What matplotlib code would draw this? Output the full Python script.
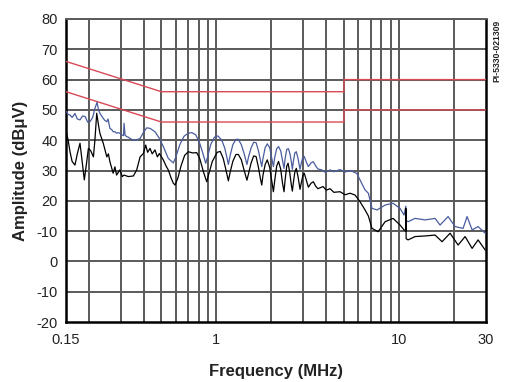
import matplotlib
matplotlib.use("Agg")
import matplotlib.pyplot as plt
from matplotlib.ticker import FixedLocator, NullFormatter, NullLocator

plt.rcParams['font.family'] = ['Liberation Sans', 'DejaVu Sans']

# Limit lines (QP and AV)
qp_f = [0.15, 0.5, 5.0, 5.0, 30.0]
qp_v = [66, 56, 56, 60, 60]
av_f = [0.15, 0.5, 5.0, 5.0, 30.0]
av_v = [56, 46, 46, 50, 50]

# Blue trace (peak)
blue_f = [0.151, 0.154, 0.158, 0.162, 0.168, 0.173, 0.179, 0.185, 0.191, 0.197,
          0.203, 0.210, 0.216, 0.222, 0.226, 0.230, 0.235, 0.240, 0.245, 0.251,
          0.255, 0.261, 0.267, 0.272, 0.278, 0.284, 0.290, 0.296, 0.303, 0.310,
          0.312, 0.316, 0.322, 0.329, 0.336, 0.351, 0.366, 0.382, 0.398, 0.415,
          0.433, 0.461, 0.487, 0.512, 0.545, 0.581,
          0.600, 0.630, 0.665, 0.700, 0.733, 0.770, 0.805, 0.840, 0.874,
          0.895, 0.930, 0.975, 1.02, 1.07, 1.11, 1.14, 1.163,
          1.19, 1.23, 1.28, 1.319, 1.37, 1.42, 1.47,
          1.50, 1.55, 1.60, 1.65, 1.70, 1.74, 1.772,
          1.80, 1.85, 1.90, 1.96, 2.01, 2.052,
          2.09, 2.14, 2.19, 2.25, 2.30, 2.347,
          2.38, 2.43, 2.48, 2.53, 2.58, 2.607,
          2.64, 2.69, 2.74, 2.80, 2.85, 2.872,
          2.92, 2.98, 3.03, 3.10, 3.19, 3.30, 3.398, 3.50,
          3.6, 3.777, 3.95, 4.195, 4.4,
          4.758, 5.07, 5.40, 5.75, 5.88, 6.12, 6.52, 6.80, 7.12, 7.59,
          8.40, 9.29, 10.14, 10.67, 10.90, 10.95, 11.22, 12.26, 13.91, 15.78,
          16.80, 18.59, 20.31, 22.46, 23.62, 25.17, 27.14, 29.66]
blue_v = [49.4, 48.5, 48.3, 47.5, 48.8, 47.0, 46.7, 48.0, 47.8, 46.0,
          46.1, 47.5, 50.5, 52.5, 50.0, 48.9, 48.0, 47.2, 46.5, 46.1,
          47.0, 43.9, 43.5, 42.8, 42.8, 42.3, 42.5, 42.3, 41.8, 41.5,
          45.6, 41.7, 41.2, 41.0, 40.6, 40.0, 40.1, 40.6, 42.5, 44.1,
          43.9, 42.8, 40.6, 37.9, 34.0, 32.5,
          34.5, 38.5, 41.3, 42.3, 42.5, 41.8, 39.5, 36.0, 32.4,
          34.5, 38.5, 41.0, 41.4, 40.0, 37.5, 34.5, 32.0,
          35.0, 38.5, 40.3, 40.3, 38.5, 35.5, 32.0,
          34.5, 37.5, 39.3, 39.2, 36.5, 33.5, 31.3,
          34.0, 37.5, 38.8, 37.5, 34.0, 31.3,
          34.5, 37.2, 37.9, 36.5, 33.5, 30.7,
          34.0, 37.0, 37.2, 35.5, 32.5, 30.4,
          33.0, 35.8, 36.2, 34.0, 31.5, 30.4,
          32.5, 34.5, 34.6, 33.0, 31.3, 32.5, 32.9, 31.5,
          30.5, 30.2, 29.4, 30.2, 29.6,
          30.3, 29.5, 30.0, 29.3, 29.0, 26.9, 23.6, 22.5, 17.5, 17.0,
          18.6, 19.2, 17.5, 15.3, 18.2, 13.5, 13.1, 14.2, 13.7, 14.2,
          12.0, 14.8, 11.5, 10.9, 14.8, 10.4, 11.5, 9.3]

# Black trace (average)
black_f = [0.151, 0.154, 0.158, 0.162, 0.168, 0.173, 0.179, 0.184, 0.189, 0.194,
           0.199, 0.205, 0.212, 0.216, 0.221, 0.226, 0.230, 0.240, 0.251, 0.256,
           0.261, 0.272, 0.278, 0.284, 0.296, 0.305, 0.312, 0.329, 0.351, 0.366,
           0.382, 0.398, 0.410, 0.420, 0.433, 0.445, 0.461, 0.475, 0.487, 0.512,
           0.530, 0.545, 0.565, 0.581, 0.594,
           0.615, 0.64, 0.67, 0.702, 0.74, 0.78, 0.81, 0.85, 0.885,
           0.91, 0.95, 1.01, 1.05, 1.09, 1.13, 1.163,
           1.19, 1.23, 1.28, 1.319, 1.37, 1.42, 1.47,
           1.50, 1.55, 1.60, 1.65, 1.70, 1.74, 1.772,
           1.80, 1.85, 1.90, 1.96, 2.01, 2.052,
           2.09, 2.14, 2.19, 2.25, 2.30, 2.347,
           2.38, 2.43, 2.47, 2.52, 2.57, 2.607,
           2.64, 2.69, 2.74, 2.80, 2.85, 2.872,
           2.92, 2.98, 3.03, 3.10, 3.19, 3.30, 3.398, 3.5,
           3.6, 3.84, 4.0, 4.195, 4.4, 4.758,
           5.07, 5.40, 5.75, 6.12, 6.52, 6.80, 7.12, 7.69, 8.40, 9.29,
           10.14, 10.67, 10.90, 10.92, 10.95, 11.22, 12.26, 13.91, 15.78, 17.23,
           19.06, 21.09, 23.04, 25.17, 27.14, 29.66]
black_v = [42.3, 40.1, 36.0, 33.0, 31.8, 35.5, 39.0, 33.0, 26.9, 32.0,
           37.3, 36.5, 34.5, 40.0, 48.9, 45.0, 42.3, 39.0, 34.5, 35.5,
           32.9, 29.1, 31.2, 28.5, 30.2, 28.0, 28.5, 28.0, 28.2, 30.2,
           34.5, 35.6, 38.4, 36.0, 37.3, 35.5, 36.8, 34.5, 35.6, 33.5,
           31.5, 30.2, 27.5, 25.8, 25.2,
           27.5, 31.5, 35.0, 36.2, 35.8, 35.9, 34.0, 29.5, 26.3,
           29.0, 33.0, 36.0, 36.3, 34.0, 30.0, 26.6,
           29.5, 33.0, 35.3, 35.3, 33.5, 30.0, 26.8,
           29.0, 32.5, 34.8, 34.6, 31.0, 27.5, 25.2,
           28.5, 32.0, 33.5, 31.0, 26.5, 23.0,
           27.0, 31.5, 33.0, 30.5, 26.0, 23.0,
           27.0, 31.5, 32.4, 29.5, 25.5, 23.2,
           26.0, 29.5, 30.7, 28.0, 25.0, 23.8,
           26.0, 28.5, 29.1, 27.0, 24.5, 25.8, 26.3, 24.8,
           24.0, 24.7, 23.5, 24.0, 22.8, 23.0,
           22.0, 22.5, 21.9, 19.7, 17.0, 15.0, 10.9, 9.8, 13.1, 14.2,
           12.0, 10.4, 10.0, 17.5, 7.5, 7.1, 8.2, 8.4, 8.7, 6.5,
           9.3, 5.4, 8.2, 4.3, 7.1, 3.8]

x_ticks = [0.15, 1, 10, 30]
x_tick_labels = ["0.15", "1", "10", "30"]
y_ticks = [-20, -10, 0, 10, 20, 30, 40, 50, 60, 70, 80]
y_tick_labels = ["-20", "-10", "0", "-10", "20", "30", "40", "50", "60", "70", "80"]
x_grid = [0.2, 0.3, 0.4, 0.5, 0.6, 0.7, 0.8, 0.9, 1, 2, 3, 4, 5, 6, 7, 8, 9, 10, 20]

fig = plt.figure(figsize=(5.10, 3.82), dpi=100)
ax = fig.add_axes([0.1294, 0.157, 0.8236, 0.7933])
ax.set_xscale('log')
ax.set_xlim(0.15, 30)
ax.set_ylim(-20, 80)

grid_c = '#5a5a5a'
for g in x_grid:
    ax.axvline(g, color=grid_c, lw=1.4, zorder=1)
for g in y_ticks[1:]:
    ax.axhline(g, color=grid_c, lw=1.4, zorder=1)

ax.plot(qp_f, qp_v, color='#d84a55', lw=1.0, zorder=3)
ax.plot(av_f, av_v, color='#d84a55', lw=1.0, zorder=3)
ax.plot(blue_f, blue_v, color='#4a5d9e', lw=0.9, zorder=4)
ax.plot(black_f, black_v, color='black', lw=0.9, zorder=5)

ax.xaxis.set_major_locator(FixedLocator(x_ticks))
ax.xaxis.set_minor_locator(NullLocator())
ax.xaxis.set_minor_formatter(NullFormatter())
ax.set_xticklabels(x_tick_labels)
ax.set_yticks(y_ticks)
ax.set_yticklabels(y_tick_labels)
ax.tick_params(axis='both', length=0, labelsize=10.5, colors='#222222')
ax.tick_params(axis='x', pad=8)
ax.tick_params(axis='y', pad=6)

for s in ['left', 'bottom', 'right']:
    ax.spines[s].set_color('black')
    ax.spines[s].set_linewidth(1.8)
ax.spines['top'].set_color(grid_c)
ax.spines['top'].set_linewidth(1.4)

ax.set_xlabel('Frequency (MHz)', fontsize=12, fontweight='bold', labelpad=12, color='#222222')
ax.set_ylabel('Amplitude (dBμV)', fontsize=12, fontweight='bold', labelpad=6, color='#222222')

fig.text(0.975, 0.868, 'PI-5330-021309', rotation=90, fontsize=6.2, fontweight='bold',
         ha='center', va='center', color='#222222')

fig.savefig('out.png', dpi=100)
